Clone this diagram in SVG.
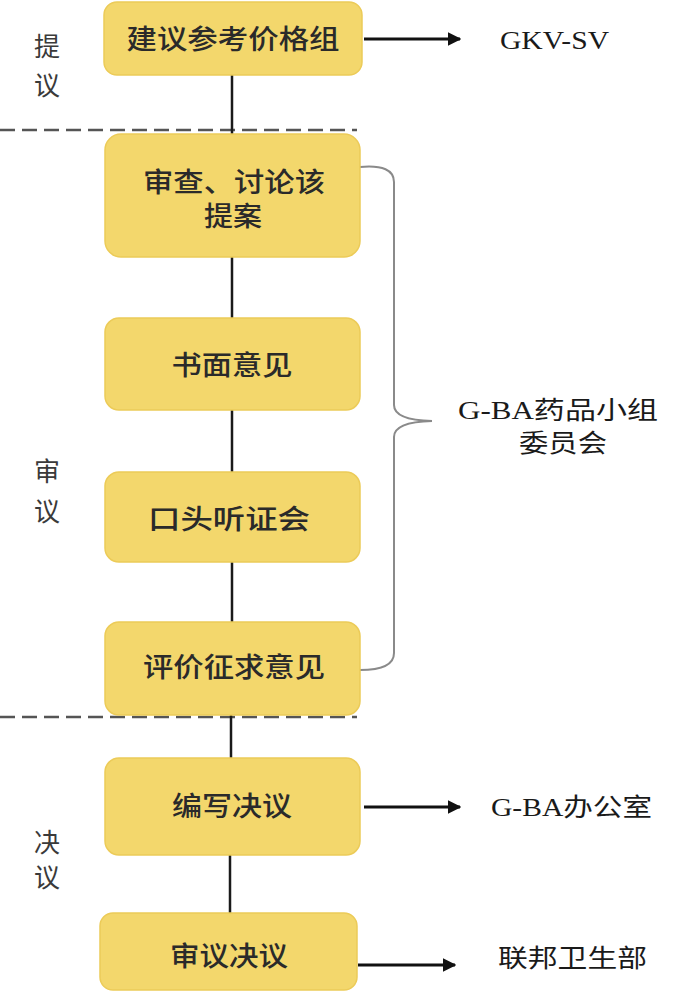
<svg xmlns="http://www.w3.org/2000/svg" width="700" height="993" viewBox="0 0 700 993">
<style>
.box{fill:#F3D76C;stroke:#ECCB58;stroke-width:1.5}
.bt{font-family:"Liberation Serif","Noto Sans CJK SC",serif;font-size:27px;font-weight:500;fill:#2a2a2a;text-anchor:middle;dominant-baseline:central}
.side{font-family:"Liberation Serif","Noto Sans CJK SC",serif;font-size:26px;fill:#3a3a3a;text-anchor:middle;dominant-baseline:central}
.rt{font-family:"Liberation Serif","Noto Sans CJK SC",serif;font-size:25px;fill:#1a1a1a;text-anchor:start;dominant-baseline:central}
.vl{stroke:#1a1a1a;stroke-width:2.5;fill:none}
.ar{stroke:#111;stroke-width:3;fill:none;marker-end:url(#ah)}
.dash{stroke:#555;stroke-width:2.5;stroke-dasharray:15 7;fill:none}
</style>
<defs>
<marker id="ah" viewBox="0 0 10 10" refX="9" refY="5" markerWidth="4.5" markerHeight="4.5" orient="auto" markerUnits="strokeWidth">
<path d="M0,0 L10,5 L0,10 z" fill="#111"/>
</marker>
</defs>
<g id="sections">
<line class="dash" x1="0" y1="130" x2="357" y2="130"/>
<line class="dash" x1="0" y1="717" x2="357" y2="717"/>
<text class="side" x="47" y="47">提</text>
<text class="side" x="47" y="86">议</text>
<text class="side" x="47" y="472">审</text>
<text class="side" x="47" y="512">议</text>
<text class="side" x="47" y="843">决</text>
<text class="side" x="47" y="878">议</text>
</g>
<g id="connectors">
<line class="vl" x1="232" y1="75" x2="232" y2="134"/>
<line class="vl" x1="232" y1="257" x2="232" y2="318"/>
<line class="vl" x1="232" y1="410" x2="232" y2="472"/>
<line class="vl" x1="232" y1="562" x2="232" y2="622"/>
<line class="vl" x1="231" y1="715" x2="231" y2="758"/>
<line class="vl" x1="230" y1="855" x2="230" y2="913"/>
<line class="ar" x1="364" y1="39" x2="460" y2="39"/>
<line class="ar" x1="364" y1="807" x2="460" y2="807"/>
<line class="ar" x1="358" y1="965" x2="455" y2="965"/>
<path d="M360 167 Q394 164 394 182 L394 405 Q394 420 432 421 Q394 422 394 437 L394 653 Q394 670 360 670" fill="none" stroke="#8a8a8a" stroke-width="2"/>
</g>
<g id="n1">
<rect class="box" x="104" y="2" width="258" height="73" rx="13"/>
<text class="bt" x="233" y="40" textLength="213" lengthAdjust="spacingAndGlyphs">建议参考价格组</text>
</g>
<g id="n2">
<rect class="box" x="105" y="134" width="255" height="123" rx="16"/>
<text class="bt" x="234" y="183" textLength="182" lengthAdjust="spacingAndGlyphs">审查、讨论该</text>
<text class="bt" x="233" y="217" textLength="58" lengthAdjust="spacingAndGlyphs">提案</text>
</g>
<g id="n3">
<rect class="box" x="105" y="318" width="255" height="92" rx="14"/>
<text class="bt" x="232" y="366" textLength="121" lengthAdjust="spacingAndGlyphs">书面意见</text>
</g>
<g id="n4">
<rect class="box" x="105" y="472" width="255" height="90" rx="14"/>
<text class="bt" x="229" y="520" textLength="162" lengthAdjust="spacingAndGlyphs">口头听证会</text>
</g>
<g id="n5">
<rect class="box" x="105" y="622" width="255" height="93" rx="14"/>
<text class="bt" x="234" y="668" textLength="182" lengthAdjust="spacingAndGlyphs">评价征求意见</text>
</g>
<g id="n6">
<rect class="box" x="105" y="758" width="255" height="97" rx="14"/>
<text class="bt" x="232" y="807" textLength="120" lengthAdjust="spacingAndGlyphs">编写决议</text>
</g>
<g id="n7">
<rect class="box" x="100" y="913" width="257" height="77" rx="13"/>
<text class="bt" x="229" y="957" textLength="118" lengthAdjust="spacingAndGlyphs">审议决议</text>
</g>
<g id="labels">
<text class="rt" x="500" y="40" textLength="109" lengthAdjust="spacingAndGlyphs">GKV-SV</text>
<text class="rt" x="458" y="410" textLength="200" lengthAdjust="spacingAndGlyphs">G-BA药品小组</text>
<text class="rt" x="519" y="443" textLength="88" lengthAdjust="spacingAndGlyphs">委员会</text>
<text class="rt" x="491" y="807" textLength="161" lengthAdjust="spacingAndGlyphs">G-BA办公室</text>
<text class="rt" x="498" y="958" textLength="149" lengthAdjust="spacingAndGlyphs">联邦卫生部</text>
</g>
</svg>
